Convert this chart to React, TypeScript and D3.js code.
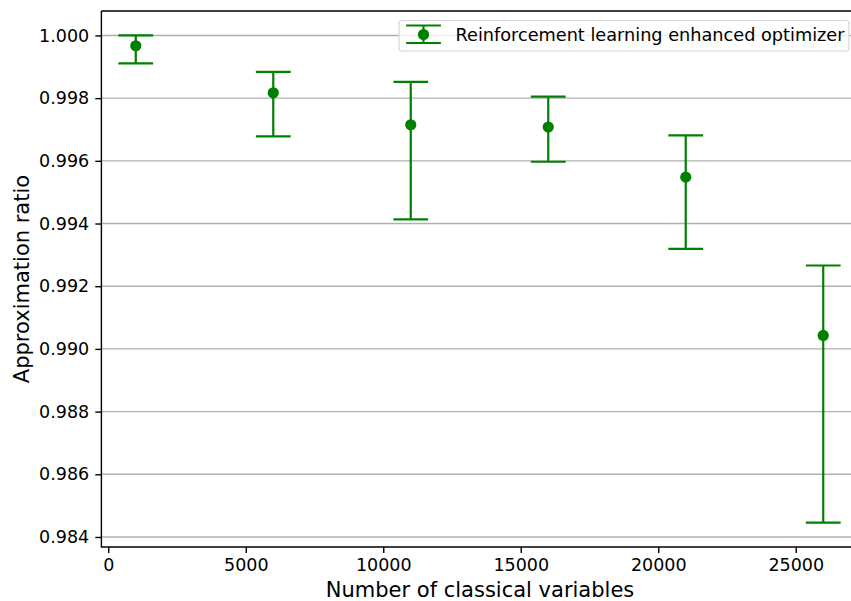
import { useEffect, useRef } from 'react';
import * as d3 from 'd3';

// number of classical variables
const xValues = [1000, 6000, 11000, 16000, 21000, 26000];
// mean approximation ratio and error bar ends
const yValues = [0.99967, 0.99817, 0.99715, 0.99708, 0.99548, 0.99043];
const yUpper = [1.0, 0.99884, 0.99852, 0.99805, 0.99681, 0.99266];
const yLower = [0.99911, 0.99678, 0.99413, 0.99597, 0.99319, 0.98446];

const xTicks = [0, 5000, 10000, 15000, 20000, 25000];
const yTicks = [0.984, 0.986, 0.988, 0.99, 0.992, 0.994, 0.996, 0.998, 1.0];

const seriesName = 'Reinforcement learning enhanced optimizer';
const green = '#008000';

const width = 851;
const height = 601;

export default function App() {
	const svgRef = useRef<SVGSVGElement>(null);

	useEffect(() => {
		if (!svgRef.current) return;
		const svg = d3.select(svgRef.current);
		svg.selectAll('*').remove();

		const left = 101.4;
		const right = 857.6;
		const top = 11;
		const bottom = 547;

		const x = d3.scaleLinear().domain([-250, 27250]).range([left, right]);
		const y = d3.scaleLinear().domain([0.98368, 1.00078]).range([bottom, top]);

		const font = 'DejaVu Sans, sans-serif';
		const tickFont = 17.5;
		const labelFont = 21;

		// grid lines
		svg
			.append('g')
			.selectAll('line')
			.data(yTicks)
			.enter()
			.append('line')
			.attr('x1', left)
			.attr('x2', right)
			.attr('y1', (d) => y(d))
			.attr('y2', (d) => y(d))
			.attr('stroke', '#b0b0b0')
			.attr('stroke-width', 1.4);

		// axes
		const xAxis = svg
			.append('g')
			.attr('transform', `translate(0,${bottom})`)
			.call(
				d3
					.axisBottom(x)
					.tickValues(xTicks)
					.tickFormat((d) => String(d))
					.tickSize(6.1)
					.tickPadding(5.5)
			);
		const yAxis = svg
			.append('g')
			.attr('transform', `translate(${left},0)`)
			.call(
				d3
					.axisLeft(y)
					.tickValues(yTicks)
					.tickFormat(d3.format('.3f'))
					.tickSize(6.1)
					.tickPadding(6.1)
			);
		[xAxis, yAxis].forEach((a) => {
			a.select('.domain').remove();
			a.selectAll('line').attr('stroke', '#000').attr('stroke-width', 1.4);
			a.attr('font-size', tickFont).attr('font-family', font);
			a.selectAll('text').attr('fill', '#000');
		});

		// spines
		svg
			.append('path')
			.attr('d', `M${left},${top}V${bottom}H${right}M${left},${top}H${right}V${bottom}`)
			.attr('fill', 'none')
			.attr('stroke', '#000')
			.attr('stroke-width', 1.4);

		// error bars
		const cap = 17.4;
		const bars = svg.append('g');
		xValues.forEach((xv, i) => {
			const cx = x(xv);
			bars
				.append('line')
				.attr('x1', cx)
				.attr('x2', cx)
				.attr('y1', y(yUpper[i]))
				.attr('y2', y(yLower[i]))
				.attr('stroke', green)
				.attr('stroke-width', 2.2);
			[yUpper[i], yLower[i]].forEach((v) => {
				bars
					.append('line')
					.attr('x1', cx - cap)
					.attr('x2', cx + cap)
					.attr('y1', y(v))
					.attr('y2', y(v))
					.attr('stroke', green)
					.attr('stroke-width', 2.2);
			});
			bars.append('circle').attr('cx', cx).attr('cy', y(yValues[i])).attr('r', 5.6).attr('fill', green);
		});

		// axis labels
		svg
			.append('text')
			.attr('x', 480)
			.attr('y', 596.5)
			.attr('text-anchor', 'middle')
			.attr('font-size', labelFont)
			.attr('font-family', font)
			.text('Number of classical variables');
		svg
			.append('text')
			.attr('transform', `translate(28.5,${(top + bottom) / 2}) rotate(-90)`)
			.attr('text-anchor', 'middle')
			.attr('font-size', labelFont)
			.attr('font-family', font)
			.text('Approximation ratio');

		// legend
		const lg = svg.append('g');
		lg.append('rect')
			.attr('x', 399)
			.attr('y', 20.5)
			.attr('width', 450)
			.attr('height', 30.5)
			.attr('rx', 3)
			.attr('fill', 'rgba(255,255,255,0.8)')
			.attr('stroke', '#d6d6d6')
			.attr('stroke-width', 1.2);
		const hx = 423.5;
		lg.append('line').attr('x1', hx).attr('x2', hx).attr('y1', 25.5).attr('y2', 43).attr('stroke', green).attr('stroke-width', 2.2);
		[25.5, 43].forEach((yy) => {
			lg.append('line')
				.attr('x1', hx - cap)
				.attr('x2', hx + cap)
				.attr('y1', yy)
				.attr('y2', yy)
				.attr('stroke', green)
				.attr('stroke-width', 2.2);
		});
		lg.append('circle').attr('cx', hx).attr('cy', 34.5).attr('r', 5.6).attr('fill', green);
		lg.append('text')
			.attr('x', 455.5)
			.attr('y', 40.7)
			.attr('font-size', 17.7)
			.attr('font-family', font)
			.text(seriesName);
	}, []);

	return (
		<div style={{ position: 'fixed', left: 0, top: 0, width, height, overflow: 'hidden', background: '#fff' }}>
			<svg ref={svgRef} width={width} height={height} style={{ display: 'block' }}></svg>
		</div>
	);
}
